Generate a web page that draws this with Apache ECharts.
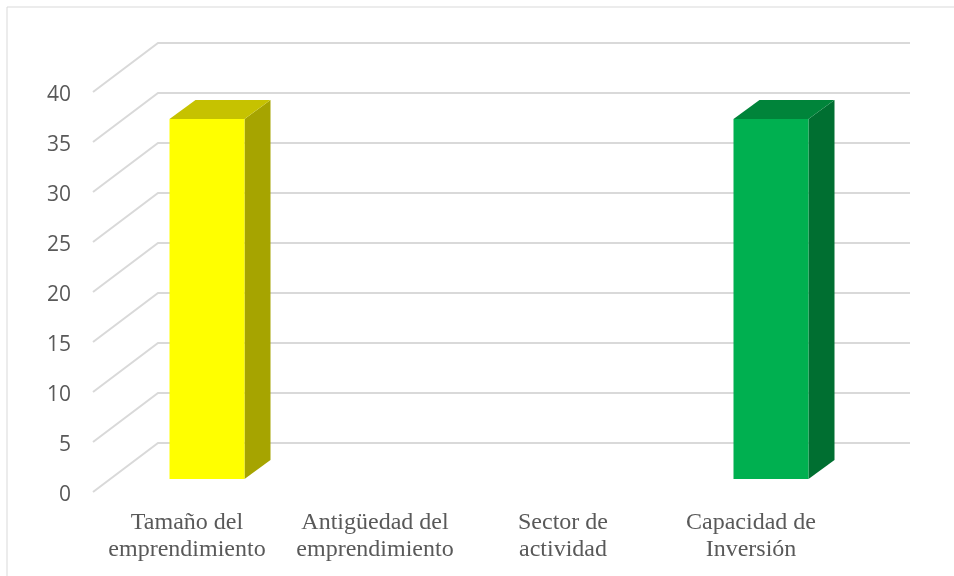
<!DOCTYPE html>
<html>
<head>
<meta charset="utf-8">
<script src="https://cdn.jsdelivr.net/npm/echarts@6/dist/echarts.min.js"></script>
<style>
  html, body { margin: 0; padding: 0; background: #fff; }
  #chart { width: 954px; height: 576px; }
</style>
</head>
<body>
<div id="chart"></div>
<script>
const categories = ['Tamaño del\nemprendimiento', 'Antigüedad del\nemprendimiento', 'Sector de\nactividad', 'Capacidad de\nInversión'];
const values = [36, 0, 0, 36];
const yTicks = [0, 5, 10, 15, 20, 25, 30, 35, 40];

// front / top / side shades per bar
const frontColors = ['#FFFF00', '#FFFF00', '#00B050', '#00B050'];
const topColors = ['#C6C200', '#C6C200', '#00843A', '#00843A'];
const sideColors = ['#A6A400', '#A6A400', '#006F31', '#006F31'];

// perspective offsets (px)
const wallDx = 65, wallDy = -49;     // floor front -> back wall
const faceDx = 20, faceDy = -13;     // floor front -> bar front face
const depthDx = 26, depthDy = -19;   // bar depth
const barW = 75;

const myChart = echarts.init(document.getElementById('chart'));

myChart.setOption({
    animation: false,
    graphic: [{
        type: 'rect',
        shape: { x: 7, y: 7, width: 1000, height: 1000 },
        style: { fill: 'none', stroke: '#d9d9d9', lineWidth: 1 },
        silent: true
    }],
    grid: { left: 93, right: 109, top: 92, bottom: 84 },
    xAxis: {
        type: 'category',
        data: categories,
        axisLine: { show: false },
        axisTick: { show: false },
        axisLabel: {
            interval: 0,
            margin: 17,
            color: '#595959',
            fontFamily: 'Liberation Serif',
            fontSize: 24,
            lineHeight: 27
        }
    },
    yAxis: {
        type: 'value',
        min: 0,
        max: 40,
        interval: 5,
        axisLine: { show: false },
        axisTick: { show: false },
        splitLine: { show: false },
        axisLabel: {
            margin: 22,
            formatter: v => '{n|' + v + '}',
            rich: {
                n: {
                    color: '#595959',
                    fontFamily: 'Open Sans',
                    fontSize: 21,
                    padding: [7, 0, 0, 0]
                }
            }
        }
    },
    series: [
        {
            type: 'custom',
            z: 1,
            silent: true,
            data: yTicks.map(v => [0, v]),
            renderItem: (params, api) => {
                const cs = params.coordSys;
                const y = api.coord([0, api.value(1)])[1];
                const x0 = cs.x;
                return {
                    type: 'polyline',
                    shape: { points: [[x0, y], [x0 + wallDx, y + wallDy], [cs.x + cs.width + wallDx, y + wallDy]] },
                    style: { stroke: '#d9d9d9', lineWidth: 2, fill: 'none' }
                };
            }
        },
        {
            type: 'custom',
            z: 2,
            data: values.map((v, i) => [i, v]),
            renderItem: (params, api) => {
                const i = api.value(0);
                const v = api.value(1);
                if (!v) return null;
                const base = api.coord([i, 0]);
                const top = api.coord([i, v]);
                const xl = base[0] + faceDx - barW / 2;
                const xr = xl + barW;
                const yb = base[1] + faceDy;
                const yt = top[1] + faceDy;
                return {
                    type: 'group',
                    children: [
                        {
                            type: 'polygon',
                            shape: { points: [[xr, yt], [xr + depthDx, yt + depthDy], [xr + depthDx, yb + depthDy], [xr, yb]] },
                            style: { fill: sideColors[i] }
                        },
                        {
                            type: 'polygon',
                            shape: { points: [[xl, yt], [xl + depthDx, yt + depthDy], [xr + depthDx, yt + depthDy], [xr, yt]] },
                            style: { fill: topColors[i] }
                        },
                        {
                            type: 'rect',
                            shape: { x: xl, y: yt, width: barW, height: yb - yt },
                            style: { fill: frontColors[i] }
                        }
                    ]
                };
            }
        }
    ]
});
</script>
</body>
</html>
